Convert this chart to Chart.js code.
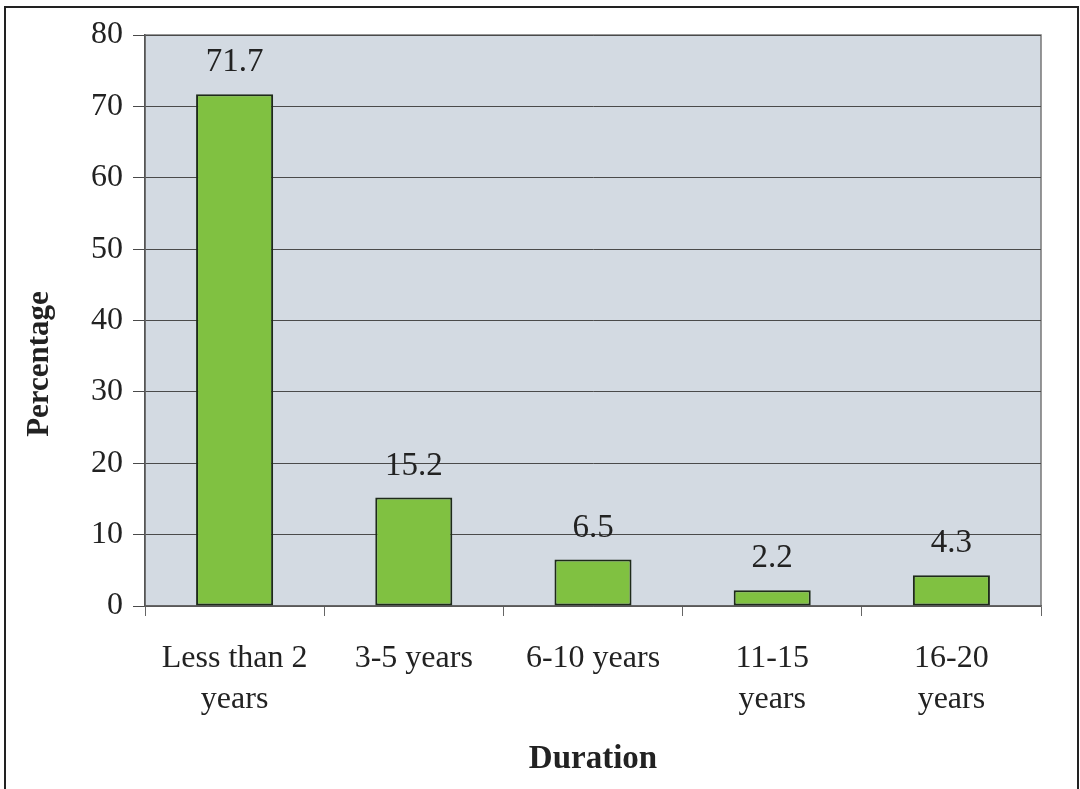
<!DOCTYPE html>
<html><head><meta charset="utf-8">
<script src="https://cdn.jsdelivr.net/npm/chart.js@4/dist/chart.umd.min.js"></script>
<style>html,body{margin:0;padding:0;background:#fff}#wrap{width:1080px;height:789px}</style>
</head><body><div id="wrap"><canvas id="c" width="1080" height="789"></canvas></div>
<script>
const categories = [["Less than 2","years"],["3-5 years"],["6-10 years"],["11-15","years"],["16-20","years"]];
const percentages = [71.7, 15.2, 6.5, 2.2, 4.3];
const yTicks = [0,10,20,30,40,50,60,70,80];
const yTitle = 'Percentage';
const xTitle = 'Duration';

const FONT = "'Liberation Serif','Times New Roman',serif";

const decor = {
  id:'decor',
  beforeDraw(chart){
    const {ctx, chartArea:a} = chart;
    ctx.save();
    ctx.fillStyle='#fff'; ctx.fillRect(0,0,chart.width,chart.height);
    ctx.fillStyle='#d3dae2'; ctx.fillRect(a.left,a.top,a.right-a.left,a.bottom-a.top);
    ctx.strokeStyle='#777'; ctx.lineWidth=1.5;
    ctx.strokeRect(a.left,a.top,a.right-a.left,a.bottom-a.top);
    ctx.restore();
  },
  afterDraw(chart){
    const {ctx, chartArea:a} = chart;
    ctx.save();
    ctx.strokeStyle='#222'; ctx.lineWidth=2;
    ctx.beginPath();
    ctx.moveTo(5,795); ctx.lineTo(5,7); ctx.lineTo(1078,7); ctx.lineTo(1078,795);
    ctx.stroke();
    // y axis title
    ctx.fillStyle='#222';
    ctx.font='bold 31px '+FONT; ctx.textAlign='center'; ctx.textBaseline='middle';
    ctx.translate(40,364); ctx.rotate(-Math.PI/2); ctx.fillText(yTitle,0,0);
    ctx.setTransform(1,0,0,1,0,0);
    // data labels
    const meta = chart.getDatasetMeta(0);
    ctx.font='33px '+FONT; ctx.textAlign='center'; ctx.textBaseline='alphabetic';
    meta.data.forEach((bar,i)=>{
      ctx.fillText(String(percentages[i]), bar.x, bar.y-23);
    });
    ctx.restore();
  }
};

new Chart(document.getElementById('c'), {
  type:'bar',
  data:{labels:categories, datasets:[{data:percentages, backgroundColor:'#80c141', borderColor:'#1e2a1a', borderWidth:2, borderSkipped:false, barPercentage:0.43, categoryPercentage:1}]},
  options:{
    responsive:false, animation:false, devicePixelRatio:1,
    layout:{padding:{left:0,right:39,top:35,bottom:0}},
    plugins:{legend:{display:false}, tooltip:{enabled:false}},
    scales:{
      x:{
        offset:true,
        grid:{display:true, drawOnChartArea:false, drawTicks:true, tickLength:10, color:'#666', offset:true},
        border:{display:true,color:'#666',width:1.5},
        ticks:{color:'#222', font:{family:FONT,size:32,lineHeight:1.28}, padding:22, maxRotation:0, autoSkip:false},
        title:{display:true, text:xTitle, color:'#222', font:{family:FONT,size:33,weight:'bold'}, padding:{top:10,bottom:10}},
        afterFit(s){ s.height = 183; }
      },
      y:{
        min:0, max:80,
        afterBuildTicks(s){ s.ticks = yTicks.map(v=>({value:v})); },
        grid:{color:'#4a4a4a', lineWidth:1, drawTicks:true, tickLength:12},
        border:{display:true,color:'#555',width:1.5},
        ticks:{color:'#222', font:{family:FONT,size:32}, padding:10},
        title:{display:false},
        afterFit(s){ s.width = 145; }
      }
    }
  },
  plugins:[decor]
});
</script></body></html>
